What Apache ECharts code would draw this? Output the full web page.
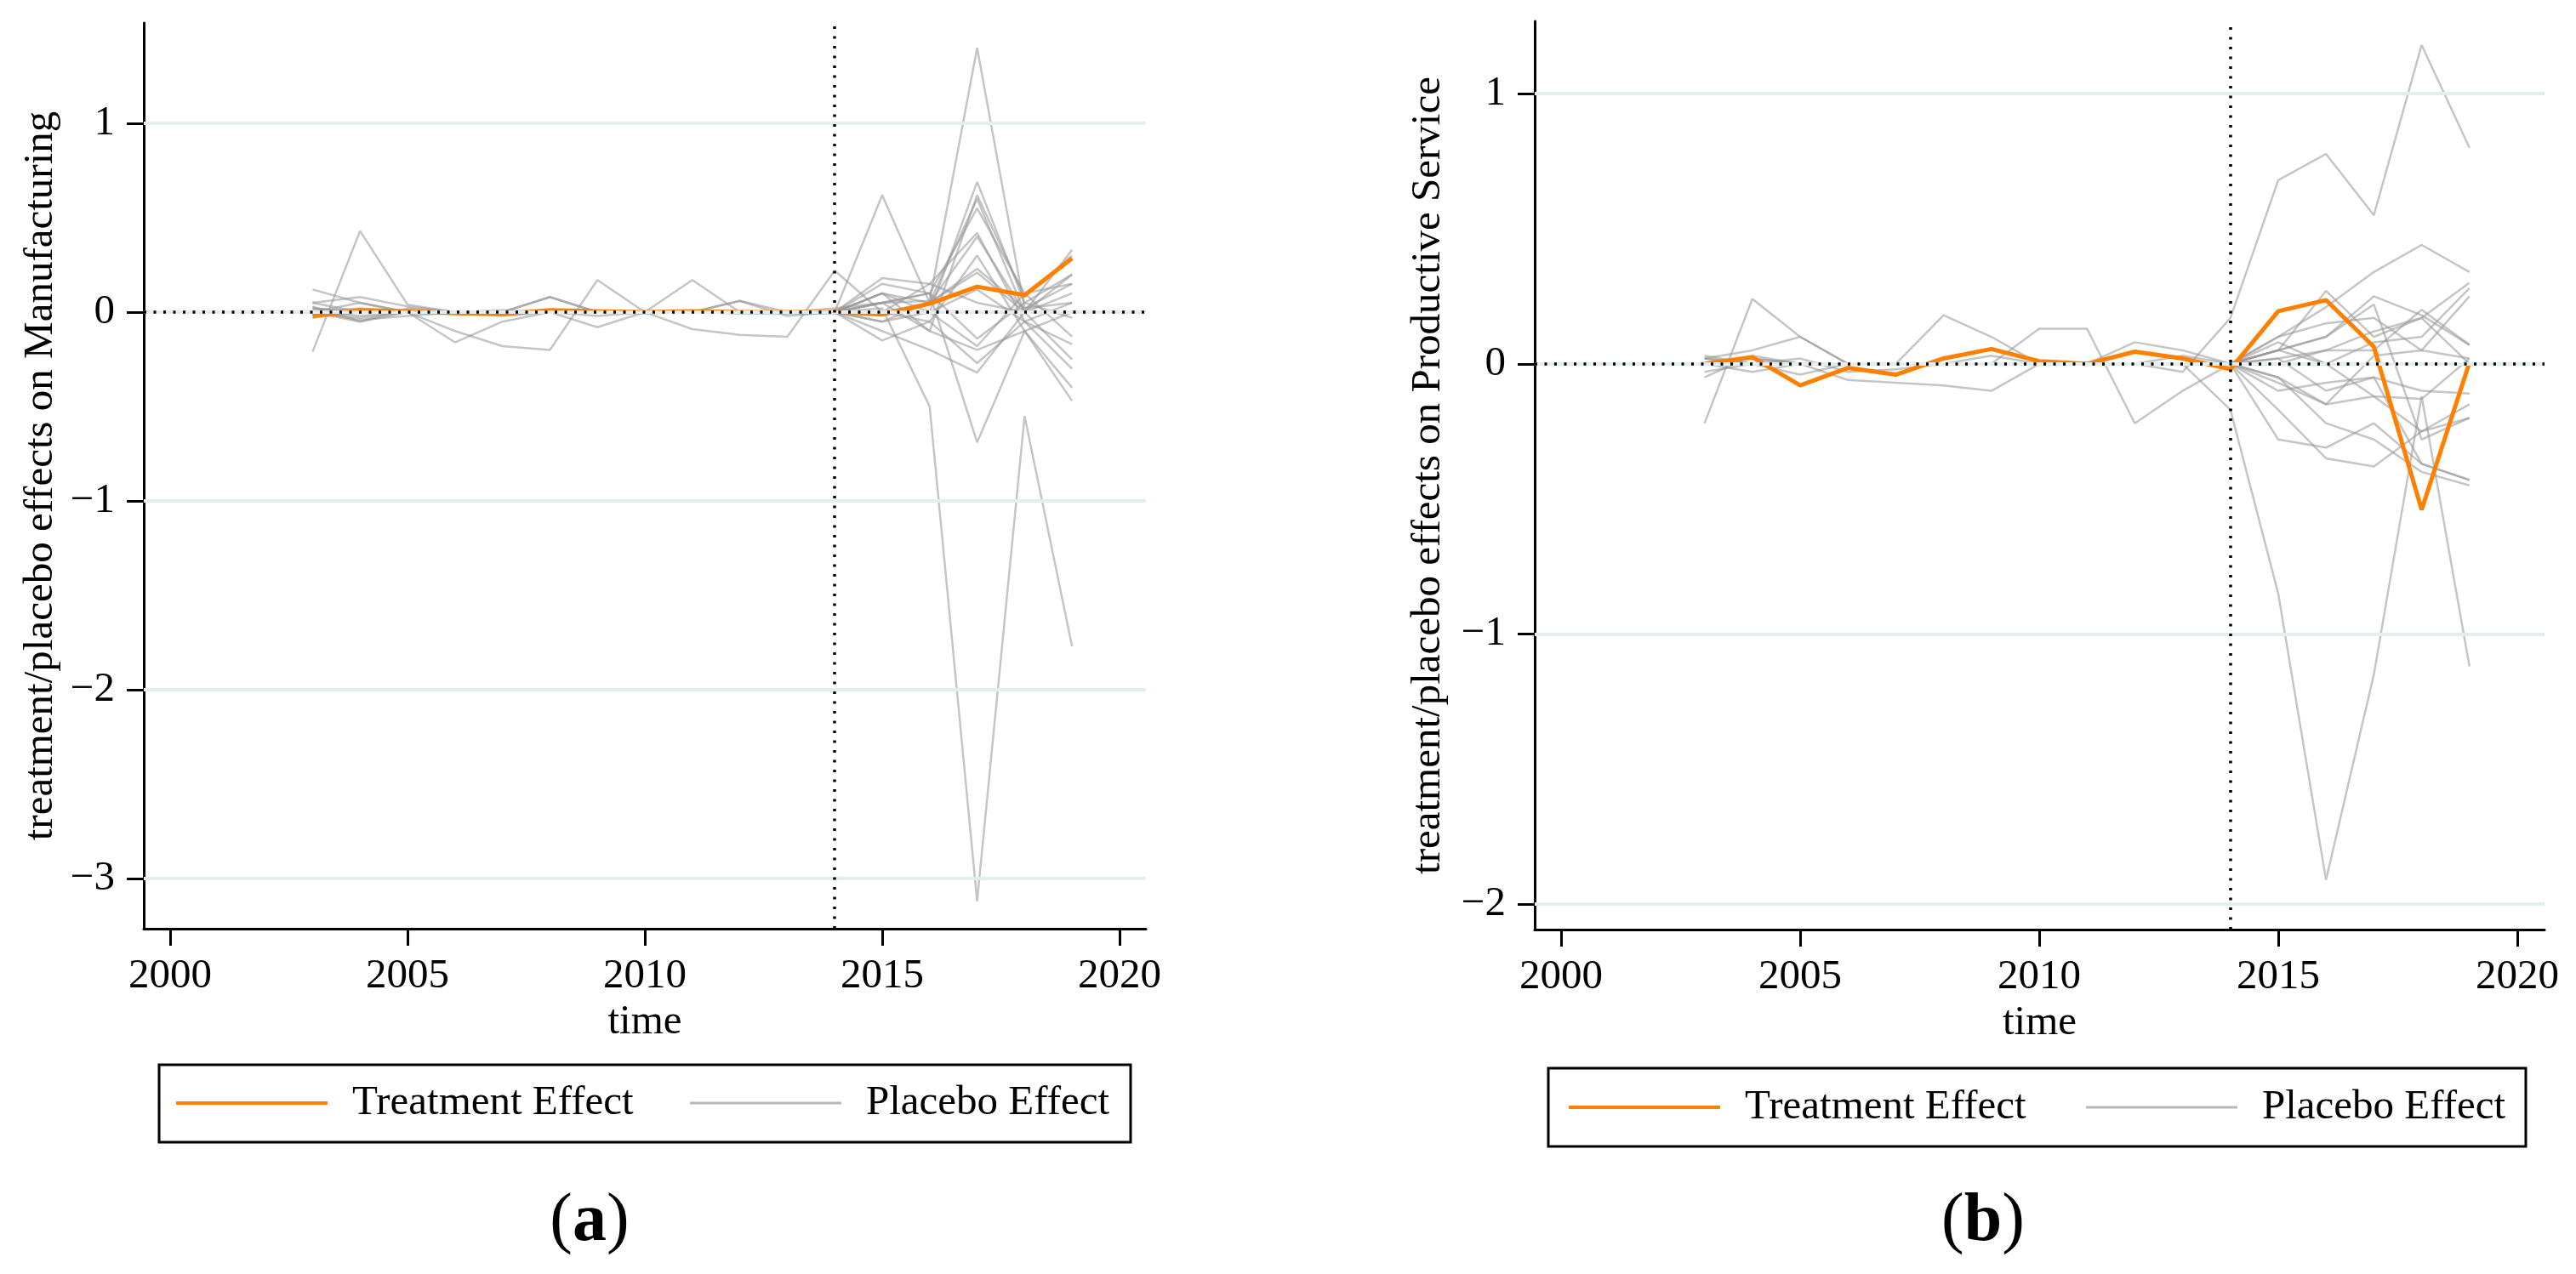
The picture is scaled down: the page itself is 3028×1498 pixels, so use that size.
<!DOCTYPE html>
<html>
<head>
<meta charset="utf-8">
<script src="https://cdn.jsdelivr.net/npm/echarts@6/dist/echarts.min.js"></script>
<style>
html,body{margin:0;padding:0;background:#ffffff;}
#chart{width:3028px;height:1498px;}
</style>
</head>
<body>
<div id="chart"></div>
<script>
// ---------------- data ----------------
const years = [2003,2004,2005,2006,2007,2008,2009,2010,2011,2012,2013,2014,2015,2016,2017,2018,2019];
const xTicks = [2000,2005,2010,2015,2020];
const yTicksA = [-3,-2,-1,0,1];
const yTicksB = [-2,-1,0,1];
const treatYear = 2014;
const seriesNames = ['Treatment Effect','Placebo Effect'];
const yTitleA = 'treatment/placebo effects on Manufacturing';
const yTitleB = 'treatment/placebo effects on Productive Service';
const xTitle = 'time';
const panelLabels = ['a','b'];

// (a) Manufacturing
const treatmentA = [-0.02,0.01,0.005,-0.005,-0.01,0.01,0.005,0.0,0.005,0.0,0.0,0.0,-0.012,0.045,0.135,0.09,0.285];
const placeboA01 = [0.02,0.0,0.01,0.0,0.0,0.0,0.0,0.0,0.0,0.0,0.0,0.02,0.05,0.06,1.40,0.02,0.05];
const placeboA02 = [0.01,-0.02,0.0,0.0,0.01,0.0,0.0,0.0,0.0,0.0,0.0,0.0,0.02,-0.50,-3.12,-0.55,-1.77];
const placeboA03 = [-0.21,0.43,0.04,0.0,0.0,0.0,0.0,0.0,0.0,0.0,0.0,0.0,0.10,0.0,0.69,0.05,0.20];
const placeboA04 = [0.12,0.05,0.0,-0.16,-0.05,0.0,0.0,0.0,0.0,0.0,0.0,0.0,0.62,0.05,0.60,0.0,0.33];
const placeboA05 = [0.0,-0.05,0.0,-0.10,-0.18,-0.20,0.17,0.0,0.0,0.0,0.0,0.0,0.05,0.10,0.55,0.10,0.15];
const placeboA06 = [0.05,0.08,0.03,0.0,0.0,0.08,0.0,0.0,0.17,0.0,0.0,0.0,0.18,0.15,0.42,-0.05,-0.30];
const placeboA07 = [0.0,0.0,0.0,0.0,0.0,0.0,0.0,0.0,-0.09,-0.12,-0.13,0.22,0.0,-0.05,0.30,-0.10,-0.47];
const placeboA08 = [0.03,-0.05,0.02,0.0,0.0,0.0,-0.02,0.0,0.0,0.06,0.0,0.0,0.15,0.10,-0.69,-0.10,-0.40];
const placeboA09 = [0.0,0.05,0.0,0.0,-0.02,0.0,-0.08,0.0,0.0,0.0,0.0,0.0,-0.10,-0.20,-0.32,0.0,-0.25];
const placeboA10 = [0.02,0.0,0.0,0.0,0.0,0.0,0.0,0.0,0.0,0.0,0.0,0.0,-0.15,-0.05,-0.27,-0.05,-0.17];
const placeboA11 = [0.0,0.02,0.0,0.0,0.0,0.0,0.0,0.0,0.0,0.0,0.0,0.0,0.0,0.0,-0.18,0.10,-0.13];
const placeboA12 = [0.0,0.0,0.0,0.0,0.0,0.0,0.0,0.0,0.0,0.0,0.0,0.0,0.05,0.10,-0.14,0.05,-0.03];
const placeboA13 = [0.05,0.0,0.0,0.0,0.0,0.0,0.0,0.0,0.0,0.0,0.0,0.0,0.10,0.05,0.21,0.0,0.10];
const placeboA14 = [0.0,-0.03,0.0,0.0,0.0,0.0,0.0,0.0,0.0,0.0,0.0,0.0,-0.05,0.0,0.12,-0.05,0.05];
const placeboA15 = [0.0,0.0,0.0,0.0,0.0,0.0,0.0,0.0,0.0,0.0,0.0,0.0,0.0,0.15,0.05,0.0,0.0];
const placeboA16 = [-0.03,0.0,0.0,0.0,0.0,0.0,0.0,0.0,0.0,0.0,0.0,0.0,0.05,-0.10,0.62,0.08,0.30];
const placeboA17 = [0.0,0.0,0.0,0.0,0.0,0.0,0.0,0.0,0.0,0.0,0.0,0.0,-0.05,0.05,0.40,0.0,0.20];
const placeboA18 = [0.0,0.0,0.0,0.0,0.0,0.0,0.0,0.0,0.0,0.0,0.0,0.0,0.10,-0.10,-0.20,-0.10,0.0];
const placeboA19 = [0.0,-0.04,-0.02,0.0,0.0,0.08,0.0,0.0,0.0,0.06,-0.02,0.0,0.0,0.05,0.23,0.02,0.15];
const placeboA = [placeboA01,placeboA02,placeboA03,placeboA04,placeboA05,placeboA06,placeboA07,placeboA08,placeboA09,placeboA10,placeboA11,placeboA12,placeboA13,placeboA14,placeboA15,placeboA16,placeboA17,placeboA18,placeboA19];

// (b) Productive Service
const treatmentB = [0.0,0.025,-0.08,-0.015,-0.04,0.02,0.055,0.01,0.0,0.045,0.02,-0.02,0.195,0.236,0.063,-0.54,0.005];
const placeboB01 = [0.0,0.02,0.0,0.0,0.0,0.0,0.0,0.0,0.0,0.0,-0.03,0.17,0.68,0.777,0.55,1.18,0.80];
const placeboB02 = [0.02,0.0,0.0,0.0,0.0,0.0,0.0,0.0,0.0,0.0,0.0,-0.17,-0.85,-1.91,-1.15,-0.12,-1.12];
const placeboB03 = [-0.22,0.24,0.10,0.0,0.0,0.0,0.0,0.0,0.0,0.0,0.0,0.0,0.10,0.21,0.34,0.44,0.34];
const placeboB04 = [0.02,0.05,0.10,0.0,0.0,0.18,0.10,0.0,0.0,0.0,0.0,0.0,0.05,0.27,0.10,0.17,0.30];
const placeboB05 = [0.0,0.0,0.0,-0.06,-0.07,-0.08,-0.10,0.0,0.0,0.0,0.0,0.0,-0.05,-0.22,-0.28,-0.40,-0.45];
const placeboB06 = [0.0,0.0,0.0,0.0,0.0,0.0,0.0,0.13,0.13,-0.22,-0.10,0.0,-0.28,-0.31,-0.22,-0.37,-0.43];
const placeboB07 = [0.0,0.02,0.0,0.0,0.0,0.0,0.0,0.0,0.0,0.08,0.05,0.0,0.10,0.15,0.17,0.05,0.25];
const placeboB08 = [-0.05,0.03,0.0,0.0,0.0,0.0,0.0,0.0,0.0,0.0,0.0,0.0,-0.17,-0.35,-0.38,-0.25,-0.20];
const placeboB09 = [0.03,0.0,-0.04,0.0,0.0,0.0,0.0,0.0,0.0,0.0,0.0,0.0,0.05,0.10,0.25,0.18,0.07];
const placeboB10 = [0.0,0.0,0.0,0.0,0.0,0.0,0.0,0.0,0.0,0.0,0.0,0.0,-0.10,-0.07,-0.05,-0.10,-0.11];
const placeboB11 = [0.0,-0.03,0.0,0.0,0.0,0.0,0.0,0.0,0.0,0.0,0.0,0.0,0.05,0.0,-0.12,-0.13,0.02];
const placeboB12 = [0.0,0.0,0.0,0.0,0.0,0.0,0.0,0.0,0.0,0.0,0.0,0.0,0.02,0.05,0.05,0.20,0.07];
const placeboB13 = [0.0,0.0,0.0,0.0,0.0,0.0,0.0,0.0,0.0,0.0,0.0,0.0,-0.05,-0.15,-0.12,-0.25,-0.15];
const placeboB14 = [0.0,0.0,0.0,0.0,0.0,0.0,0.0,0.0,0.0,0.0,0.0,0.0,0.05,0.10,0.22,-0.28,-0.20];
const placeboB15 = [0.0,0.0,0.0,0.0,0.0,0.0,0.0,0.0,0.0,0.0,0.0,0.0,0.02,-0.10,-0.05,-0.37,-0.43];
const placeboB16 = [0.0,0.0,0.0,0.0,0.0,0.0,0.0,0.0,0.0,0.0,0.0,0.0,0.0,0.05,0.12,0.17,0.0];
const placeboB17 = [0.02,0.0,0.0,0.0,0.0,0.0,0.0,0.0,0.0,0.0,0.0,0.0,-0.07,-0.15,0.03,0.05,0.02];
const placeboB18 = [-0.03,0.0,0.02,-0.03,-0.02,0.0,0.03,0.0,0.0,0.0,0.03,0.0,0.08,0.0,0.08,0.10,0.28];
const placeboB = [placeboB01,placeboB02,placeboB03,placeboB04,placeboB05,placeboB06,placeboB07,placeboB08,placeboB09,placeboB10,placeboB11,placeboB12,placeboB13,placeboB14,placeboB15,placeboB16,placeboB17,placeboB18];

// ---------------- styling ----------------
const FONT = "'Liberation Serif','Times New Roman',serif";
const FS = 49;
const ORANGE = '#FF8000';
const GREY = 'rgba(150,150,150,0.55)';
const GRIDCOL = '#E4EEEE';

const pairs = (ys) => years.map((y, i) => [y, ys[i]]);
const minusFmt = (v) => String(v).replace('-', '\u2212');
const plainFmt = (v) => String(v);

function xAxisOf(gi, min, max) {
  return {
    type: 'value', gridIndex: gi, min: min, max: max,
    name: xTitle, nameLocation: 'middle', nameGap: 82,
    nameTextStyle: {fontFamily: FONT, fontSize: FS, color: '#000'},
    axisLine: {show: true, onZero: false, lineStyle: {color: '#000', width: 3}},
    axisTick: {show: true, length: 20, lineStyle: {color: '#000', width: 3}, customValues: xTicks},
    axisLabel: {show: true, margin: 32, fontFamily: FONT, fontSize: FS, color: '#000', customValues: xTicks, formatter: plainFmt},
    splitLine: {show: false}
  };
}
function yAxisOf(gi, min, max, ticks, title, gap) {
  return {
    type: 'value', gridIndex: gi, min: min, max: max, position: 'left',
    name: title, nameLocation: 'middle', nameGap: gap, nameRotate: 90,
    nameTextStyle: {fontFamily: FONT, fontSize: FS, color: '#000'},
    axisLine: {show: true, onZero: false, lineStyle: {color: '#000', width: 3}},
    axisTick: {show: true, length: 20, lineStyle: {color: '#000', width: 3}, customValues: ticks},
    axisLabel: {show: true, margin: 34, fontFamily: FONT, fontSize: FS, color: '#000', customValues: ticks, formatter: minusFmt},
    splitLine: {show: false}
  };
}

function panelSeries(gi, treatment, placebos, ticks) {
  const out = [];
  out.push({
    type: 'line', xAxisIndex: gi, yAxisIndex: gi, data: [], silent: true, z: 1,
    markLine: {silent: true, symbol: ['none','none'], label: {show: false}, animation: false,
      lineStyle: {color: GRIDCOL, width: 4, type: 'solid'},
      data: ticks.map(v => ({yAxis: v}))}
  });
  out.push({
    type: 'line', xAxisIndex: gi, yAxisIndex: gi, data: [], silent: true, z: 2,
    markLine: {silent: true, symbol: ['none','none'], label: {show: false}, animation: false,
      lineStyle: {color: '#000', width: 3.5, type: [3, 8.5]},
      data: [{yAxis: 0}, {xAxis: treatYear}]}
  });
  placebos.forEach(p => out.push({
    type: 'line', name: seriesNames[1], xAxisIndex: gi, yAxisIndex: gi, z: 3,
    data: pairs(p), showSymbol: false, symbol: 'none', silent: true,
    lineStyle: {color: GREY, width: 2.5}, itemStyle: {color: GREY}
  }));
  out.push({
    type: 'line', name: seriesNames[0], xAxisIndex: gi, yAxisIndex: gi, z: 4,
    data: pairs(treatment), showSymbol: false, symbol: 'none', silent: true,
    lineStyle: {color: ORANGE, width: 5}, itemStyle: {color: ORANGE}
  });
  return out;
}

function legendOf(name, left, top, color, h) {
  return {
    data: [{name: name, icon: 'rect', itemStyle: {color: color, borderWidth: 0}}],
    left: left, top: top, orient: 'horizontal', padding: 0,
    itemWidth: 178, itemHeight: h, selectedMode: false,
    textStyle: {fontFamily: FONT, fontSize: FS, color: '#000', lineHeight: 56, padding: [0,0,0,24]}
  };
}

const chart = echarts.init(document.getElementById('chart'), null, {renderer: 'canvas'});
const option = {
  animation: false,
  backgroundColor: '#ffffff',
  grid: [
    {left: 169, top: 27, width: 1178, height: 1065, outerBoundsMode: 'none', containLabel: false},
    {left: 1804, top: 25, width: 1187, height: 1068, outerBoundsMode: 'none', containLabel: false}
  ],
  xAxis: [xAxisOf(0, 1999.444, 2020.556), xAxisOf(1, 1999.448, 2020.57)],
  yAxis: [yAxisOf(0, -3.266, 1.532, yTicksA, yTitleA, 96), yAxisOf(1, -2.094, 1.268, yTicksB, yTitleB, 100)],
  legend: [
    legendOf(seriesNames[0], 207, 1269, ORANGE, 4),
    legendOf(seriesNames[1], 811, 1269, 'rgba(160,160,160,0.75)', 3),
    legendOf(seriesNames[0], 1844, 1274, ORANGE, 4),
    legendOf(seriesNames[1], 2452, 1274, 'rgba(160,160,160,0.75)', 3)
  ],
  series: [].concat(panelSeries(0, treatmentA, placeboA, yTicksA), panelSeries(1, treatmentB, placeboB, yTicksB)),
  graphic: [
    {type: 'rect', silent: true, shape: {x: 187, y: 1252, width: 1142, height: 91}, style: {fill: 'none', stroke: '#000', lineWidth: 3}},
    {type: 'rect', silent: true, shape: {x: 1820, y: 1256, width: 1149, height: 92}, style: {fill: 'none', stroke: '#000', lineWidth: 3}},
    {type: 'text', silent: true, x: 693, y: 1437, style: {text: '({b|' + panelLabels[0] + '})', font: '80px ' + FONT, fill: '#000', align: 'center', verticalAlign: 'middle',
      rich: {b: {fontFamily: FONT, fontSize: 80, fontWeight: 'bold', fill: '#000'}}}},
    {type: 'text', silent: true, x: 2331, y: 1437, style: {text: '({b|' + panelLabels[1] + '})', font: '80px ' + FONT, fill: '#000', align: 'center', verticalAlign: 'middle',
      rich: {b: {fontFamily: FONT, fontSize: 80, fontWeight: 'bold', fill: '#000'}}}}
  ]
};
chart.setOption(option);
</script>
</body>
</html>
